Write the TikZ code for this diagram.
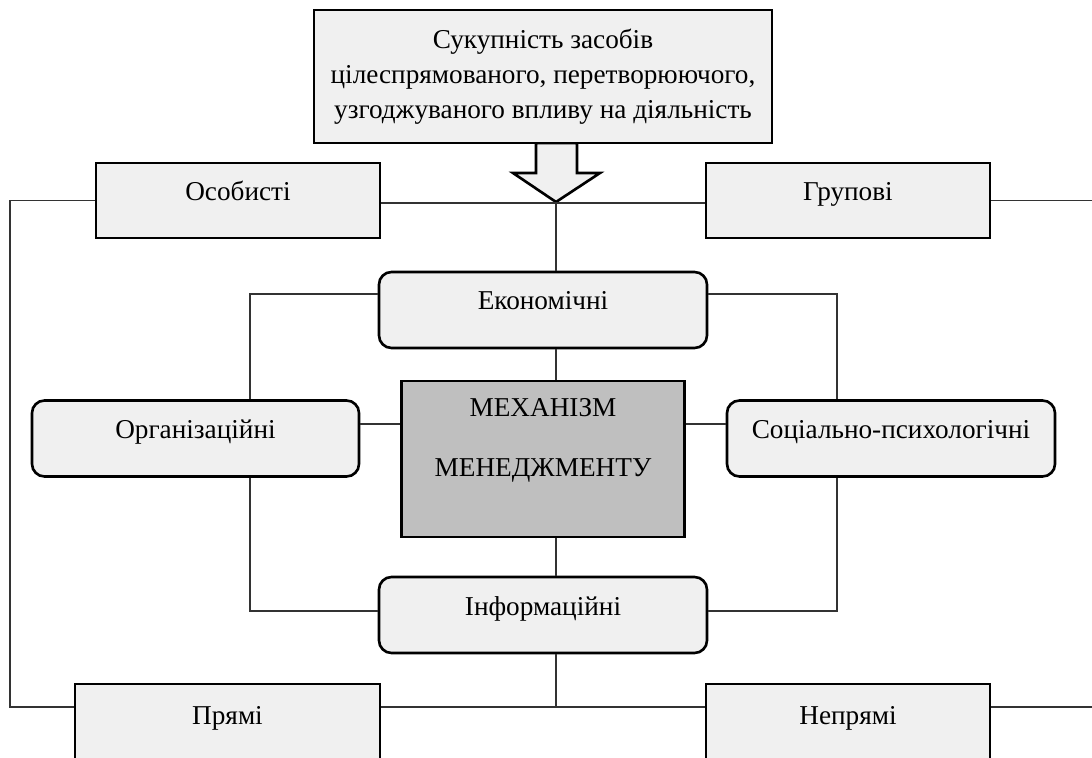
\documentclass[tikz,border=0pt]{standalone}
\usepackage{fontspec}
\setmainfont{Liberation Serif}
\usepackage{tikz}
\usetikzlibrary{positioning}
\tikzstyle{base} = [rectangle, draw=black, line width=1.5pt, fill=black!6]
\tikzstyle{block} = [base, text centered, text height=0.3cm, text depth=0.3cm, minimum width=5.68cm, minimum height=1.5cm]
\tikzstyle{soft} = [block, rounded corners=0.25cm, minimum width=6.56cm, minimum height=1.52cm]
\tikzstyle{core} = [base, fill=black!25, align=center, minimum width=5.67cm, minimum height=3.12cm]
\tikzstyle{line} = [draw=black!80, line width=0.8pt]
\tikzstyle{bigarrow} = [draw=black, line width=1.5pt, fill=black!6, line join=miter]

\begin{document}
\begin{tikzpicture}[font=\fontsize{15.5}{19.9}\selectfont]

    \useasboundingbox (0, 0) rectangle (21.84, -15.16);

    \draw [bigarrow] (10.72, -2.86) -- (10.72, -3.46) -- (10.26, -3.46) -- (11.12, -4.04) -- (12.0, -3.46) -- (11.54, -3.46) -- (11.54, -2.86) -- cycle;
    \node (means) [base, align=center, minimum width=9.16cm, minimum height=2.66cm] at (10.86, -1.53) {Сукупність засобів\\цілеспрямованого, перетворюючого,\\узгоджуваного впливу на діяльність};

    \node (osob) [block] at (4.76, -4.01) {Особисті};
    \node (hrup) [block] at (16.96, -4.01) {Групові};
    \node (ekon) [soft] at (10.86, -6.2) {Економічні};
    \node (orh) [soft, minimum width=6.54cm] at (3.91, -8.77) {Організаційні};
    \node (mech) [core] at (10.86, -9.18) {МЕХАНІЗМ\\[14.8pt]МЕНЕДЖМЕНТУ\\[4.6pt]~};
    \node (sots) [soft] at (17.82, -8.77) {Соціально-психологічні};
    \node (info) [soft] at (10.86, -12.3) {Інформаційні};
    \node (prym) [block, minimum width=6.1cm, minimum height=1.6cm] at (4.55, -14.48) {Прямі};
    \node (nepr) [block, minimum height=1.6cm] at (16.96, -14.48) {Непрямі};

    \coordinate (tip) at (11.12, -4.06);
    \coordinate (low) at (11.12, -14.14);
    \coordinate (mid) at (11.12, -8.48);
    \coordinate (lft) at (0.2, -14.14);
    \coordinate (rgt) at (21.9, -14.14);
    \coordinate (innl) at (5.0, -5.88);
    \coordinate (innr) at (16.74, -5.88);
    \coordinate (infl) at (5.0, -12.22);
    \coordinate (infr) at (16.74, -12.22);

    \draw [line] (osob.east |- tip) -- (hrup.west |- tip);
    \draw [line] (tip) -- (tip |- ekon.north);
    \draw [line] (tip |- ekon.south) -- (tip |- mech.north);
    \draw [line] (tip |- mech.south) -- (tip |- info.north);
    \draw [line] (tip |- info.south) -- (low);
    \draw [line] (prym.east |- low) -- (nepr.west |- low);

    \draw [line] (osob.west) -| (lft) -- (prym.west |- lft);
    \draw [line] (hrup.east) -- (hrup.east -| rgt);
    \draw [line] (nepr.east |- rgt) -- (rgt);

    \draw [line] (ekon.west |- innl) -- (innl) -- (innl |- orh.north);
    \draw [line] (ekon.east |- innr) -- (innr) -- (innr |- sots.north);
    \draw [line] (innl |- orh.south) -- (infl) -- (info.west |- infl);
    \draw [line] (innr |- sots.south) -- (infr) -- (info.east |- infr);
    \draw [line] (orh.east |- mid) -- (mech.west |- mid);
    \draw [line] (mech.east |- mid) -- (sots.west |- mid);

\end{tikzpicture}
\end{document}
